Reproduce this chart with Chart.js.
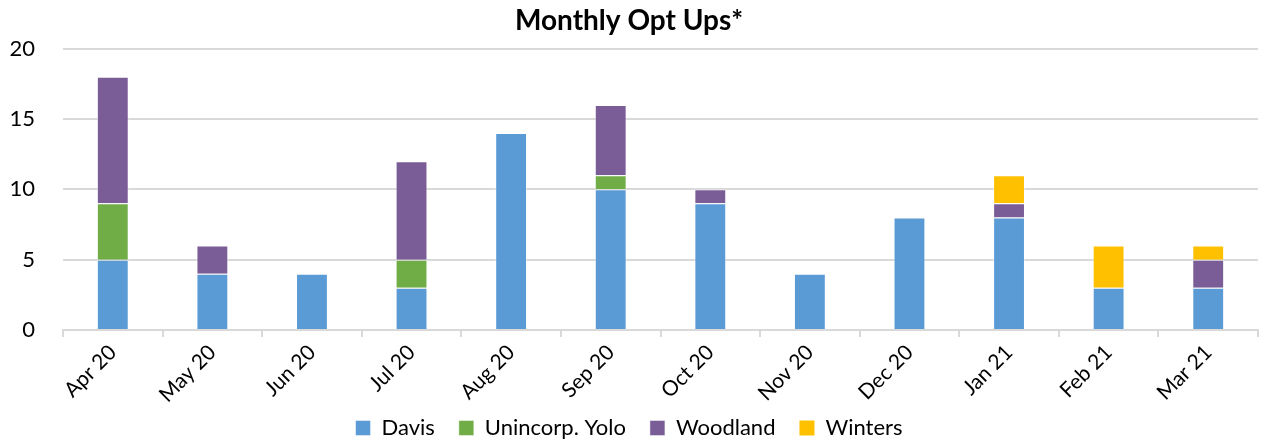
<!DOCTYPE html>
<html>
<head>
<meta charset="utf-8">
<script src="https://cdn.jsdelivr.net/npm/chart.js@4/dist/chart.umd.min.js"></script>
<style>
  html, body { margin: 0; padding: 0; background: #fff; }
  #wrap { width: 1261px; height: 441px; position: relative; }
</style>
</head>
<body>
<div id="wrap"><canvas id="optUpsChart"></canvas></div>
<script>
// Chart data
const months = ['Apr 20', 'May 20', 'Jun 20', 'Jul 20', 'Aug 20', 'Sep 20',
                'Oct 20', 'Nov 20', 'Dec 20', 'Jan 21', 'Feb 21', 'Mar 21'];
const davis     = [5, 4, 4, 3, 14, 10, 9, 4, 8, 8, 3, 3];
const unincorp  = [4, 0, 0, 2, 0, 1, 0, 0, 0, 0, 0, 0];
const woodland  = [9, 2, 0, 7, 0, 5, 1, 0, 0, 1, 0, 2];
const winters   = [0, 0, 0, 0, 0, 0, 0, 0, 0, 2, 3, 1];
const yTicks    = [0, 5, 10, 15, 20];

const fontFamily = 'Lato, "Open Sans", "Noto Sans", sans-serif';

function series(label, data, color) {
    return {
        label: label,
        data: data,
        backgroundColor: color,
        borderColor: 'rgba(255, 255, 255, 0.45)',
        // no edge on empty segments
        borderWidth: ctx => (ctx.raw ? 1 : 0),
        barPercentage: 0.32,
        categoryPercentage: 1.0
    };
}

// the x axis box is squeezed so the labels can hang into the legend band;
// widen its clip area again before drawing so they aren't cut off
const labelOverflow = {
    id: 'labelOverflow',
    beforeDraw(chart) {
        chart.scales.x.bottom = chart.height;
    }
};

new Chart(document.getElementById('optUpsChart'), {
    type: 'bar',
    data: {
        labels: months,
        datasets: [
            series('Davis', davis, '#5b9bd5'),
            series('Unincorp. Yolo', unincorp, '#70ad47'),
            series('Woodland', woodland, '#7a5c97'),
            series('Winters', winters, '#ffc000')
        ]
    },
    plugins: [labelOverflow],
    options: {
        responsive: true,
        maintainAspectRatio: false,
        animation: false,
        layout: {
            padding: { left: 0, right: 3, top: 0, bottom: -8 }
        },
        scales: {
            x: {
                stacked: true,
                grid: {
                    offset: true,
                    drawOnChartArea: false,
                    drawTicks: true,
                    tickLength: 7,
                    color: '#d9d9d9',
                    lineWidth: 2
                },
                border: { color: '#d9d9d9', width: 2 },
                afterFit: axis => {
                    axis.height = 63;
                },
                ticks: {
                    minRotation: 45,
                    maxRotation: 45,
                    color: '#000',
                    padding: 3,
                    font: { family: fontFamily, size: 21 }
                }
            },
            y: {
                stacked: true,
                min: yTicks[0],
                max: yTicks[yTicks.length - 1],
                grid: {
                    color: '#d9d9d9',
                    lineWidth: 2,
                    drawTicks: false
                },
                border: { display: false },
                afterBuildTicks: axis => {
                    axis.ticks = yTicks.map(v => ({ value: v }));
                },
                afterFit: axis => {
                    axis.width = 63;
                },
                ticks: {
                    color: '#000',
                    padding: 28,
                    font: { family: fontFamily, size: 22 }
                }
            }
        },
        plugins: {
            title: {
                display: true,
                text: 'Monthly Opt Ups*',
                color: '#000',
                padding: { top: 4, bottom: 11 },
                font: { family: fontFamily, size: 28, weight: 'bold' }
            },
            legend: {
                position: 'bottom',
                labels: {
                    color: '#000',
                    boxWidth: 15,
                    boxHeight: 15,
                    padding: 24,
                    font: { family: fontFamily, size: 22 }
                }
            },
            tooltip: { enabled: false }
        }
    }
});
</script>
</body>
</html>
